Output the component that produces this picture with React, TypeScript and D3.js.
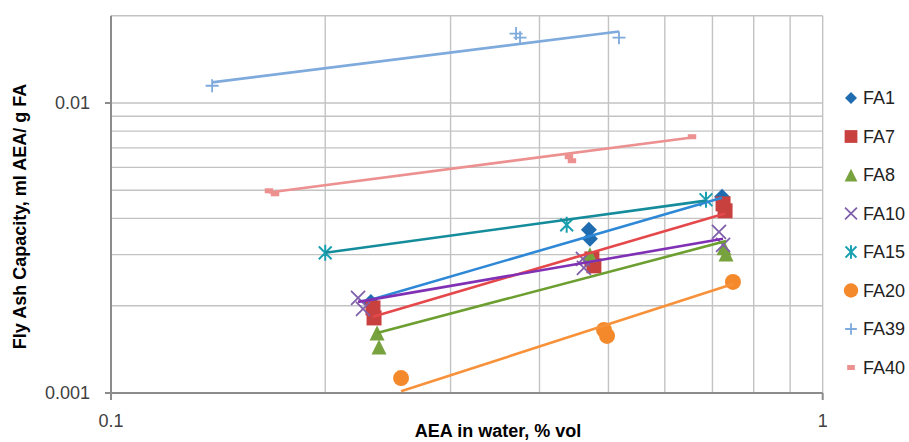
import React from "react";
import * as d3 from "d3";

// ---- data ----
const seriesNames = ["FA1", "FA7", "FA8", "FA10", "FA15", "FA20", "FA39", "FA40"];

const fa1X = [0.2318, 0.4693, 0.4709, 0.7221];
const fa1Y = [0.00206, 0.003652, 0.0034, 0.00475];
const fa7X = [0.2334, 0.2342, 0.4739, 0.477, 0.7244, 0.7291];
const fa7Y = [0.001965, 0.001815, 0.0029, 0.002745, 0.00449, 0.004249];
const fa8X = [0.2365, 0.238, 0.4709, 0.7267, 0.7314];
const fa8Y = [0.001611, 0.001441, 0.002995, 0.003166, 0.003018];
const fa10X = [0.2224, 0.226, 0.4603, 0.4618, 0.7149, 0.7244];
const fa10Y = [0.002128, 0.00195, 0.0029, 0.0027, 0.003594, 0.003243];
const fa15X = [0.2, 0.4368, 0.6855];
const fa15Y = [0.003043, 0.0038, 0.004638];
const fa20X = [0.2556, 0.4929, 0.4977, 0.748];
const fa20Y = [0.001126, 0.00165, 0.001573, 0.002416];
const fa39X = [0.1387, 0.3708, 0.3756, 0.5173];
const fa39Y = [0.01147, 0.01735, 0.0168, 0.0168];
const fa40X = [0.1667, 0.17, 0.44, 0.4443, 0.6552];
const fa40Y = [0.004981, 0.004863, 0.006527, 0.006323, 0.007651];

// power trendlines y = a * x^b
const trendA = [0.005948, 0.005225, 0.004089, 0.003899, 0.00523, 0.002993, 0.0216, 0.008705];
const trendB = [0.7129, 0.7197, 0.6461, 0.424, 0.3364, 0.7937, 0.3071, 0.3194];

const xTickLabels = ["0.1", "1"];
const yTickLabels = ["0.001", "0.01"];
const xTitle = "AEA in water, % vol";
const yTitle = "Fly Ash Capacity, ml AEA/ g FA";

// ---- styles ----
const xsAll = [fa1X, fa7X, fa8X, fa10X, fa15X, fa20X, fa39X, fa40X];
const ysAll = [fa1Y, fa7Y, fa8Y, fa10Y, fa15Y, fa20Y, fa39Y, fa40Y];
const markerColors = ["#1f6db0", "#c8413f", "#77a23d", "#7f60aa", "#1ba0b0", "#f4892c", "#7eaadc", "#ec9090"];
const lineColors = ["#2e88d6", "#e4484b", "#6c9e30", "#8030b4", "#148c9c", "#f7923a", "#7eaadc", "#ec9090"];
const shapes = ["diamond", "square", "triangle", "x", "star", "circle", "plus", "dash"];

const FONT = "'Liberation Sans', Arial, sans-serif";

function Marker({ shape, color, x, y, s }: { shape: string; color: string; x: number; y: number; s: number }) {
  const h = s / 2;
  switch (shape) {
    case "diamond":
      return <path d={`M${x},${y - h}L${x + h},${y}L${x},${y + h}L${x - h},${y}Z`} fill={color} />;
    case "square":
      return <rect x={x - h} y={y - h} width={s} height={s} fill={color} />;
    case "triangle":
      return <path d={`M${x},${y - h}L${x + h},${y + h}L${x - h},${y + h}Z`} fill={color} />;
    case "x":
      return (
        <path
          d={`M${x - h},${y - h}L${x + h},${y + h}M${x - h},${y + h}L${x + h},${y - h}`}
          stroke={color}
          strokeWidth={1.8}
          fill="none"
        />
      );
    case "star":
      return (
        <path
          d={`M${x - h * 0.8},${y - h * 0.8}L${x + h * 0.8},${y + h * 0.8}M${x - h * 0.8},${y + h * 0.8}L${x + h * 0.8},${y - h * 0.8}M${x},${y - h}L${x},${y + h}`}
          stroke={color}
          strokeWidth={2}
          fill="none"
        />
      );
    case "circle":
      return <circle cx={x} cy={y} r={h} fill={color} />;
    case "plus":
      return (
        <path d={`M${x - h},${y}L${x + h},${y}M${x},${y - h}L${x},${y + h}`} stroke={color} strokeWidth={1.8} fill="none" />
      );
    case "dash":
      return <rect x={x - h * 0.65} y={y - 2.5} width={s * 0.65} height={5} fill={color} />;
    default:
      return null;
  }
}

export default function App() {
  const W = 909;
  const H = 442;
  const left = 111;
  const right = 822.7;
  const top = 15.7;
  const bottom = 393;

  const x = d3.scaleLog().domain([0.1, 1]).range([left, right]);
  const y = d3.scaleLog().domain([0.001, 0.02]).range([bottom, top]);

  const xGrid = d3.range(2, 11).map((k) => k / 10);
  const yGrid = [...d3.range(2, 11).map((k) => k / 1000), 0.02];

  const line = d3
    .line<[number, number]>()
    .x((d) => x(d[0]))
    .y((d) => y(d[1]));

  const sizes = [16, 15, 15, 14, 16, 16, 13, 13];
  const legendScale = [0.75, 0.85, 0.85, 0.85, 0.85, 0.9, 0.9, 0.9];

  return (
    <svg width={W} height={H} style={{ position: "absolute", left: 0, top: 0, background: "#fff" }}>
      <defs>
        <clipPath id="plotclip">
          <rect x={left} y={top} width={right - left} height={bottom - top} />
        </clipPath>
      </defs>
      {/* gridlines */}
      {xGrid.map((g) => (
        <line key={"xg" + g} x1={x(g)} x2={x(g)} y1={top} y2={bottom} stroke="#c3c3c3" strokeWidth={1.4} />
      ))}
      {yGrid.map((g) => (
        <line key={"yg" + g} x1={left} x2={right} y1={y(g)} y2={y(g)} stroke="#c3c3c3" strokeWidth={1.4} />
      ))}
      {/* axes */}
      <line x1={left} x2={left} y1={top} y2={bottom + 7} stroke="#8c8c8c" strokeWidth={2} />
      <line x1={left - 6} x2={right} y1={bottom} y2={bottom} stroke="#8c8c8c" strokeWidth={2} />
      <line x1={left - 6} x2={left} y1={y(0.01)} y2={y(0.01)} stroke="#8c8c8c" strokeWidth={2} />
      <line x1={right} x2={right} y1={bottom} y2={bottom + 7} stroke="#8c8c8c" strokeWidth={2} />

      {/* tick labels */}
      {yTickLabels.map((t) => (
        <text
          key={t}
          x={left - 21}
          y={y(+t)}
          dy="0.36em"
          textAnchor="end"
          fontFamily={FONT}
          fontSize={18}
          fill="#404040"
        >
          {t}
        </text>
      ))}
      {xTickLabels.map((t) => (
        <text key={t} x={x(+t)} y={427} textAnchor="middle" fontFamily={FONT} fontSize={18} fill="#404040">
          {t}
        </text>
      ))}

      {/* titles */}
      <text x={498} y={437} textAnchor="middle" fontFamily={FONT} fontSize={18} fontWeight="bold" fill="#000">
        {xTitle}
      </text>
      <text
        transform={`translate(26,216.5) rotate(-90)`}
        textAnchor="middle"
        fontFamily={FONT}
        fontSize={18}
        fontWeight="bold"
        fill="#000"
      >
        {yTitle}
      </text>

      {/* markers */}
      <g>
        {seriesNames.map((name, i) => (
          <g key={name}>
            {xsAll[i].map((xv, j) => (
              <Marker key={j} shape={shapes[i]} color={markerColors[i]} x={x(xv)} y={y(ysAll[i][j])} s={sizes[i]} />
            ))}
          </g>
        ))}
      </g>

      {/* trendlines */}
      <g clipPath="url(#plotclip)">
        {seriesNames.map((name, i) => {
          const [x0, x1] = d3.extent(xsAll[i]) as [number, number];
          const pts: [number, number][] = [x0, x1].map((xv) => [xv, trendA[i] * Math.pow(xv, trendB[i])]);
          return (
            <path key={"t" + name} d={line(pts) || ""} stroke={lineColors[i]} strokeWidth={2.6} fill="none" />
          );
        })}
      </g>

      {/* legend */}
      {seriesNames.map((name, i) => {
        const ly = 98 + i * 38.5;
        return (
          <g key={"lg" + name}>
            <Marker shape={shapes[i]} color={markerColors[i]} x={851} y={ly} s={sizes[i] * legendScale[i]} />
            <text x={863} y={ly} dy="0.36em" fontFamily={FONT} fontSize={18} fill="#222">
              {name}
            </text>
          </g>
        );
      })}
    </svg>
  );
}
